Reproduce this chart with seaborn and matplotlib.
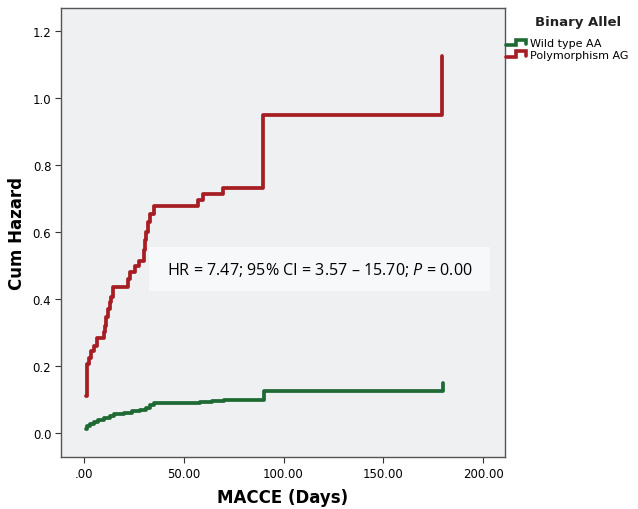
import pandas as pd
import matplotlib
matplotlib.use("Agg")
import matplotlib.pyplot as plt
import seaborn as sns
from matplotlib.lines import Line2D
from matplotlib.patches import Rectangle
from matplotlib.legend_handler import HandlerBase

# cumulative hazard steps (day, value after the event)
wild_days = [1, 1.5, 3, 5, 7, 10, 13, 15, 20, 24, 28, 31, 33, 35, 38, 58, 64, 70, 90, 180]
wild_haz = [0.013, 0.022, 0.028, 0.033, 0.038, 0.043, 0.050, 0.055, 0.060, 0.064,
            0.067, 0.074, 0.082, 0.088, 0.090, 0.093, 0.096, 0.099, 0.125, 0.150]

poly_days = [1, 1.7, 2.5, 3.5, 5, 6.5, 10, 10.5, 11, 12, 13, 13.5, 14.5, 22, 23, 25.5,
             27.5, 30, 30.5, 31, 32, 33, 35, 57, 59.5, 69.5, 89.5, 179.5]
poly_haz = [0.110, 0.205, 0.225, 0.245, 0.260, 0.285, 0.300, 0.320, 0.345, 0.370, 0.390,
            0.405, 0.437, 0.460, 0.480, 0.500, 0.515, 0.545, 0.575, 0.600, 0.630, 0.655,
            0.678, 0.697, 0.715, 0.732, 0.950, 1.127]

groups = ["Wild type AA", "Polymorphism AG"]
colors = {"Wild type AA": "#1f6a34", "Polymorphism AG": "#a61e24"}

x_ticks = [0, 50, 100, 150, 200]
x_tick_labels = [".00", "50.00", "100.00", "150.00", "200.00"]
y_ticks = [0.0, 0.2, 0.4, 0.6, 0.8, 1.0, 1.2]
y_tick_labels = ["0.0", "0.2", "0.4", "0.6", "0.8", "1.0", "1.2"]

annotation = "HR = 7.47; 95% CI = 3.57 \u2013 15.70; $P$ = 0.00"

df = pd.concat([
    pd.DataFrame({"Days": wild_days, "Hazard": wild_haz, "Allel": groups[0]}),
    pd.DataFrame({"Days": poly_days, "Hazard": poly_haz, "Allel": groups[1]}),
])

sns.set_style("white")
plt.rcParams["font.family"] = ["DejaVu Sans"]
plt.rcParams["text.color"] = "black"
plt.rcParams["axes.labelcolor"] = "black"
plt.rcParams["xtick.color"] = "black"
plt.rcParams["ytick.color"] = "black"
plt.rcParams["mathtext.fontset"] = "custom"
plt.rcParams["mathtext.it"] = "Open Sans:italic"
plt.rcParams["mathtext.rm"] = "Open Sans"


class StepHandler(HandlerBase):
    # legend key drawn as a little step, like the SPSS output
    def create_artists(self, legend, orig_handle, xdescent, ydescent,
                       width, height, fontsize, trans):
        xs = [0, 0.45, 0.45, 0.95, 0.95]
        ys = [0.15, 0.15, 0.85, 0.85, 0.3]
        line = Line2D([x * width - xdescent for x in xs],
                      [y * height - ydescent for y in ys],
                      color=orig_handle.get_color(), lw=2.6,
                      solid_joinstyle="miter", transform=trans)
        return [line]


fig = plt.figure(figsize=(6.38, 5.10), dpi=100)
ax = fig.add_axes([0.0956, 0.102, 0.696, 0.880])
ax.set_facecolor("#eff0f2")

sns.lineplot(data=df, x="Days", y="Hazard", hue="Allel", palette=colors,
             estimator=None, sort=False, drawstyle="steps-post", lw=2.7,
             solid_capstyle="round", legend=False, ax=ax)

ax.set_xlim(-11.5, 211)
ax.set_ylim(-0.072, 1.269)
ax.set_xticks(x_ticks)
ax.set_xticklabels(x_tick_labels, fontsize=8.5)
ax.set_yticks(y_ticks)
ax.set_yticklabels(y_tick_labels, fontsize=8.5)
ax.tick_params(axis="both", direction="out", length=4, width=0.8, color="#333333",
               left=True, bottom=True, pad=3)
for side in ax.spines.values():
    side.set_color("#555555")
    side.set_linewidth(1.0)

ax.set_xlabel("MACCE (Days)", fontsize=12, fontweight="bold", labelpad=6)
ax.set_ylabel("Cum Hazard", fontsize=12, fontweight="bold", labelpad=5)

# annotation box
ax.add_patch(Rectangle((32.5, 0.424), 171, 0.131, facecolor="#f7f8f9",
                       edgecolor="none", zorder=3))
ax.text(41.5, 0.490, annotation, fontsize=11.6, family="Open Sans",
        va="center", ha="left", zorder=4)

# legend: title placed separately so it lines up with the labels
fig.text(0.838, 0.955, "Binary Allel", fontsize=9.5, fontweight="bold",
         color="#222222", ha="left", va="center")
handles = [Line2D([0], [0], color=colors[g]) for g in groups]
fig.legend(handles, groups, loc="upper left", bbox_to_anchor=(0.781, 0.938),
           frameon=False, fontsize=8, handlelength=1.9, handletextpad=0.25,
           labelspacing=0.15, borderpad=0.2, handler_map={Line2D: StepHandler()})

fig.savefig("out.png", dpi=100, facecolor="white")
